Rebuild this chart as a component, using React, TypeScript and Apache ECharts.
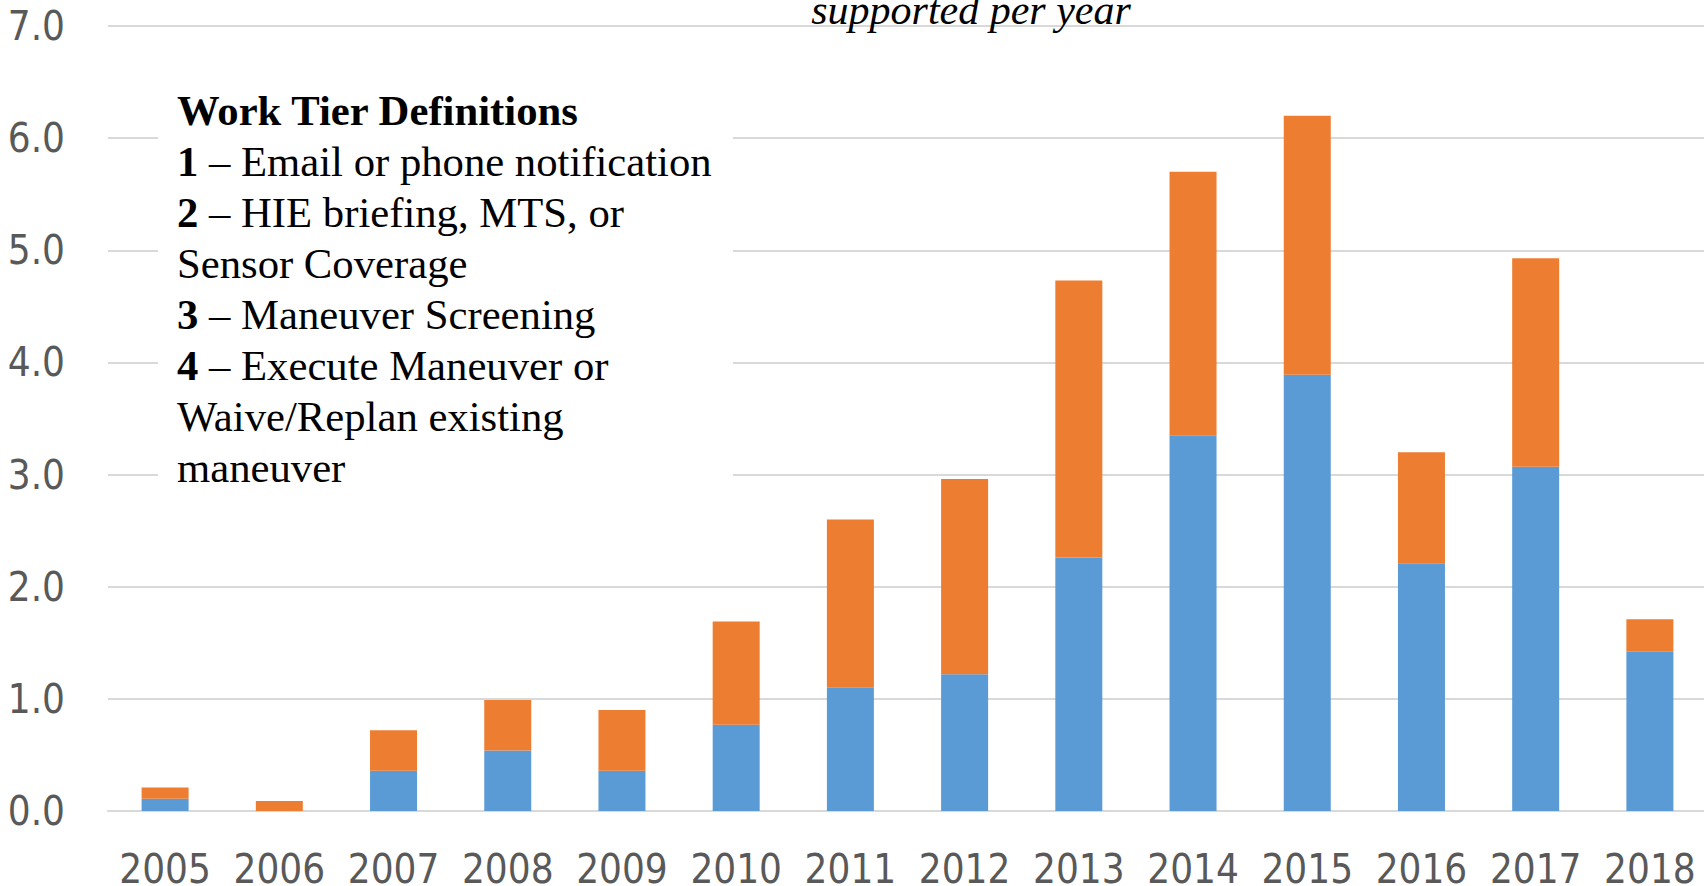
import React, { useEffect, useRef } from "react";
import * as echarts from "echarts";

const years = ["2005", "2006", "2007", "2008", "2009", "2010", "2011", "2012", "2013", "2014", "2015", "2016", "2017", "2018"];
const tierLow = [0.11, 0, 0.36, 0.54, 0.36, 0.77, 1.1, 1.22, 2.26, 3.35, 3.89, 2.21, 3.07, 1.42];
const tierHigh = [0.1, 0.09, 0.36, 0.45, 0.54, 0.92, 1.5, 1.74, 2.47, 2.35, 2.31, 0.99, 1.86, 0.29];
const yTicks = [0, 1, 2, 3, 4, 5, 6, 7];

const defLines: { num?: string; text: string; title?: boolean }[] = [
  { text: "Work Tier Definitions", title: true },
  { num: "1", text: " – Email or phone notification" },
  { num: "2", text: " – HIE briefing, MTS, or" },
  { text: "Sensor Coverage" },
  { num: "3", text: " – Maneuver Screening" },
  { num: "4", text: " – Execute Maneuver or" },
  { text: "Waive/Replan existing" },
  { text: "maneuver" },
];

export default function App() {
  const ref = useRef<HTMLDivElement>(null);
  useEffect(() => {
    document.body.style.margin = "0";
    if (!ref.current) return;
    const chart = echarts.init(ref.current, undefined, { renderer: "svg" });
    const serif = "'Liberation Serif', 'Times New Roman', serif";
    const axisFont = "'Liberation Sans Narrow', 'DejaVu Sans Condensed', 'Liberation Sans', sans-serif";
    const fs = 42.7;
    const textEls: any[] = defLines.map((l, i) => {
      const y = 110 + i * 51;
      if (l.title) {
        return {
          type: "text",
          x: 177,
          y,
          z: 20,
          style: { text: l.text, font: `bold ${fs}px ${serif}`, fill: "#000", verticalAlign: "middle", align: "left" },
        };
      }
      const str = l.num ? `{b|${l.num}}{r|${l.text}}` : `{r|${l.text}}`;
      return {
        type: "text",
        x: 177,
        y,
        z: 20,
        style: {
          text: str,
          fill: "#000",
          verticalAlign: "middle",
          align: "left",
          rich: {
            b: { fontFamily: serif, fontWeight: "bold", fontSize: fs, fill: "#000" },
            r: { fontFamily: serif, fontSize: fs, fill: "#000" },
          },
        },
      };
    });
    chart.setOption({
      animation: false,
      backgroundColor: "#fff",
      grid: { left: 108, right: -3, top: 26, bottom: 75, containLabel: false, outerBoundsMode: "none" },
      xAxis: {
        type: "category",
        data: years,
        axisLine: { show: true, lineStyle: { color: "#D9D9D9", width: 2 } },
        axisTick: { show: false },
        axisLabel: { color: "#595959", fontFamily: axisFont, fontSize: 40, lineHeight: 30, margin: 43, interval: 0 },
      },
      yAxis: {
        type: "value",
        min: 0,
        max: 7,
        interval: 1,
        axisLine: { show: false },
        axisTick: { show: false },
        splitLine: { lineStyle: { color: "#D9D9D9", width: 2 } },
        axisLabel: {
          color: "#595959",
          fontFamily: axisFont,
          fontSize: 40,
          margin: 43,
          formatter: (v: number) => (yTicks.includes(v) ? v.toFixed(1) : ""),
        },
      },
      series: [
        {
          name: "Tier 1-2",
          type: "bar",
          stack: "t",
          data: tierLow,
          barWidth: 47,
          itemStyle: { color: "#5B9BD5" },
        },
        {
          name: "Tier 3-4",
          type: "bar",
          stack: "t",
          data: tierHigh,
          barWidth: 47,
          itemStyle: { color: "#ED7D31" },
        },
      ],
      graphic: [
        {
          type: "rect",
          shape: { x: 158, y: 45, width: 575, height: 495 },
          style: { fill: "#fff" },
          z: 10,
        },
        {
          type: "rect",
          shape: { x: 0, y: 0, width: 105, height: 886 },
          style: { fill: "rgba(0,0,0,0)" },
          z: 1,
        },
        ...textEls,
        {
          type: "text",
          x: 971,
          y: 10,
          z: 20,
          style: { text: "supported per year", font: `italic 42px ${serif}`, fill: "#000", align: "center", verticalAlign: "middle" },
        },
      ],
    });
    return () => chart.dispose();
  }, []);
  return <div ref={ref} style={{ width: 1704, height: 886 }} />;
}
